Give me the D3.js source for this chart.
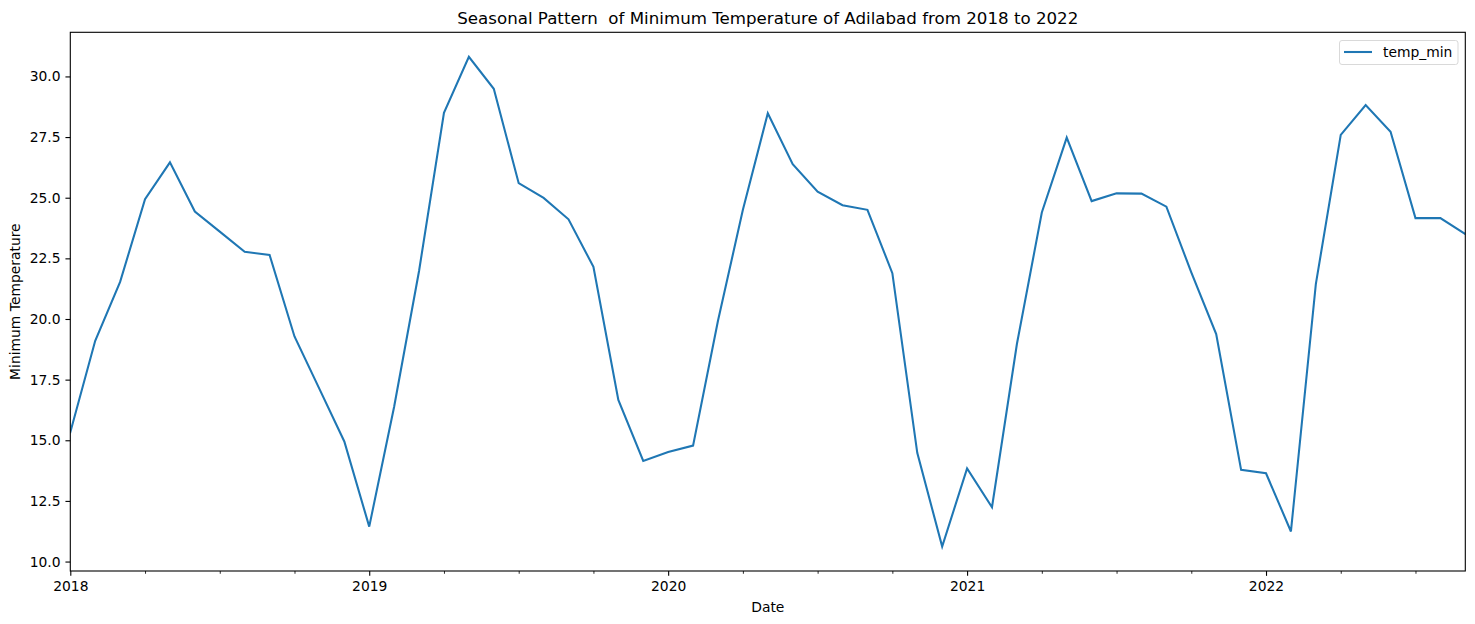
<!DOCTYPE html>
<html>
<head>
<meta charset="utf-8">
<script src="https://cdn.jsdelivr.net/npm/d3@7"></script>
<style>
  body { margin: 0; background: #fff; }
  svg { display: block; font-family: "DejaVu Sans", sans-serif; }
</style>
</head>
<body>
<svg id="chart" width="1475" height="624"></svg>
<script>
// Monthly minimum temperature, Jan 2018 .. Sep 2022
const startYear = 2018;
const months = d3.range(57); // month index from Jan 2018
const tempMin = [
  15.33, 19.10, 21.53, 24.94, 26.46, 24.43, 23.60, 22.77, 22.64, 19.28, 17.12, 14.95,
  11.44, 16.38, 21.98, 28.50, 30.81, 29.49, 25.60, 24.99, 24.11, 22.15, 16.66, 14.15,
  14.52, 14.78, 19.93, 24.50, 28.48, 26.38, 25.25, 24.69, 24.50, 21.89, 14.48, 10.62,
  13.84, 12.24, 18.97, 24.39, 27.48, 24.86, 25.18, 25.17, 24.63, 21.92, 19.38, 13.78,
  13.64, 11.24, 21.44, 27.59, 28.82, 27.72, 24.16, 24.16, 23.50
];
const yTicks = [10.0, 12.5, 15.0, 17.5, 20.0, 22.5, 25.0, 27.5, 30.0];
const xMajorTicks = [0, 12, 24, 36, 48];
const xMajorLabels = ["2018", "2019", "2020", "2021", "2022"];
const xMinorTicks = months.filter(m => m % 3 === 0 && m % 12 !== 0);
const seriesName = "temp_min";
const titleText = "Seasonal Pattern  of Minimum Temperature of Adilabad from 2018 to 2022";

const FS = "13.89px", TFS = "16.67px";
const svg = d3.select("#chart");
const m = { left: 70.3, right: 1465.3, top: 32.3, bottom: 571 };

const x = d3.scaleLinear().domain([0, months.length - 1]).range([m.left, m.right]);
const yMin = d3.min(tempMin), yMax = d3.max(tempMin), pad = (yMax - yMin) * 0.05;
const y = d3.scaleLinear().domain([yMin - pad, yMax + pad]).range([m.bottom, m.top]);

// line
const line = d3.line().x((d, i) => x(months[i])).y(d => y(d));
svg.append("defs").append("clipPath").attr("id", "clip")
  .append("rect").attr("x", m.left).attr("y", m.top)
  .attr("width", m.right - m.left).attr("height", m.bottom - m.top);
svg.append("path").datum(tempMin)
  .attr("clip-path", "url(#clip)")
  .attr("fill", "none").attr("stroke", "#1f77b4").attr("stroke-width", 2.08)
  .attr("stroke-linejoin", "miter").attr("stroke-linecap", "square")
  .attr("d", line);

// y axis
const yAxis = d3.axisLeft(y).tickValues(yTicks).tickFormat(d3.format(".1f"))
  .tickSize(4.86).tickPadding(4.86);
const gy = svg.append("g").attr("transform", `translate(${m.left},0)`).call(yAxis);
gy.select(".domain").remove();
gy.selectAll("text").attr("font-size", FS).attr("fill", "#000")
  .attr("font-family", "DejaVu Sans");
gy.selectAll("line").attr("stroke", "#000").attr("stroke-width", 1.1);

// x axis major
const xAxis = d3.axisBottom(x).tickValues(xMajorTicks)
  .tickFormat((d, i) => xMajorLabels[i]).tickSize(4.86).tickPadding(4.86);
const gx = svg.append("g").attr("transform", `translate(0,${m.bottom})`).call(xAxis);
gx.select(".domain").remove();
gx.selectAll("text").attr("font-size", FS).attr("fill", "#000")
  .attr("font-family", "DejaVu Sans");
gx.selectAll("line").attr("stroke", "#000").attr("stroke-width", 1.1);

// x axis minor
const xMinor = d3.axisBottom(x).tickValues(xMinorTicks).tickFormat("").tickSize(2.78);
const gxm = svg.append("g").attr("transform", `translate(0,${m.bottom})`).call(xMinor);
gxm.select(".domain").remove();
gxm.selectAll("line").attr("stroke", "#000").attr("stroke-width", 0.84);

// frame
svg.append("rect").attr("x", m.left).attr("y", m.top)
  .attr("width", m.right - m.left).attr("height", m.bottom - m.top)
  .attr("fill", "none").attr("stroke", "#000").attr("stroke-width", 1.1);

// title & labels
svg.append("text").attr("x", (m.left + m.right) / 2).attr("y", 23.5)
  .attr("text-anchor", "middle").attr("font-size", TFS).attr("fill", "#000")
  .attr("xml:space", "preserve").style("white-space", "pre")
  .text(titleText);
svg.append("text").attr("x", (m.left + m.right) / 2).attr("y", 612)
  .attr("text-anchor", "middle").attr("font-size", FS).attr("fill", "#000")
  .text("Date");
svg.append("text")
  .attr("transform", `translate(20,${(m.top + m.bottom) / 2}) rotate(-90)`)
  .attr("text-anchor", "middle").attr("font-size", FS).attr("fill", "#000")
  .text("Minimum Temperature");

// legend
const lg = svg.append("g");
lg.append("rect").attr("x", 1339.5).attr("y", 40.5).attr("width", 118.5).attr("height", 24)
  .attr("rx", 2.5).attr("fill", "#fff").attr("fill-opacity", 0.8)
  .attr("stroke", "#d9d9d9").attr("stroke-width", 1);
lg.append("line").attr("x1", 1344).attr("x2", 1372).attr("y1", 52).attr("y2", 52)
  .attr("stroke", "#1f77b4").attr("stroke-width", 2.08);
lg.append("text").attr("x", 1383).attr("y", 57).attr("font-size", FS)
  .attr("fill", "#000").text(seriesName);
</script>
</body>
</html>
